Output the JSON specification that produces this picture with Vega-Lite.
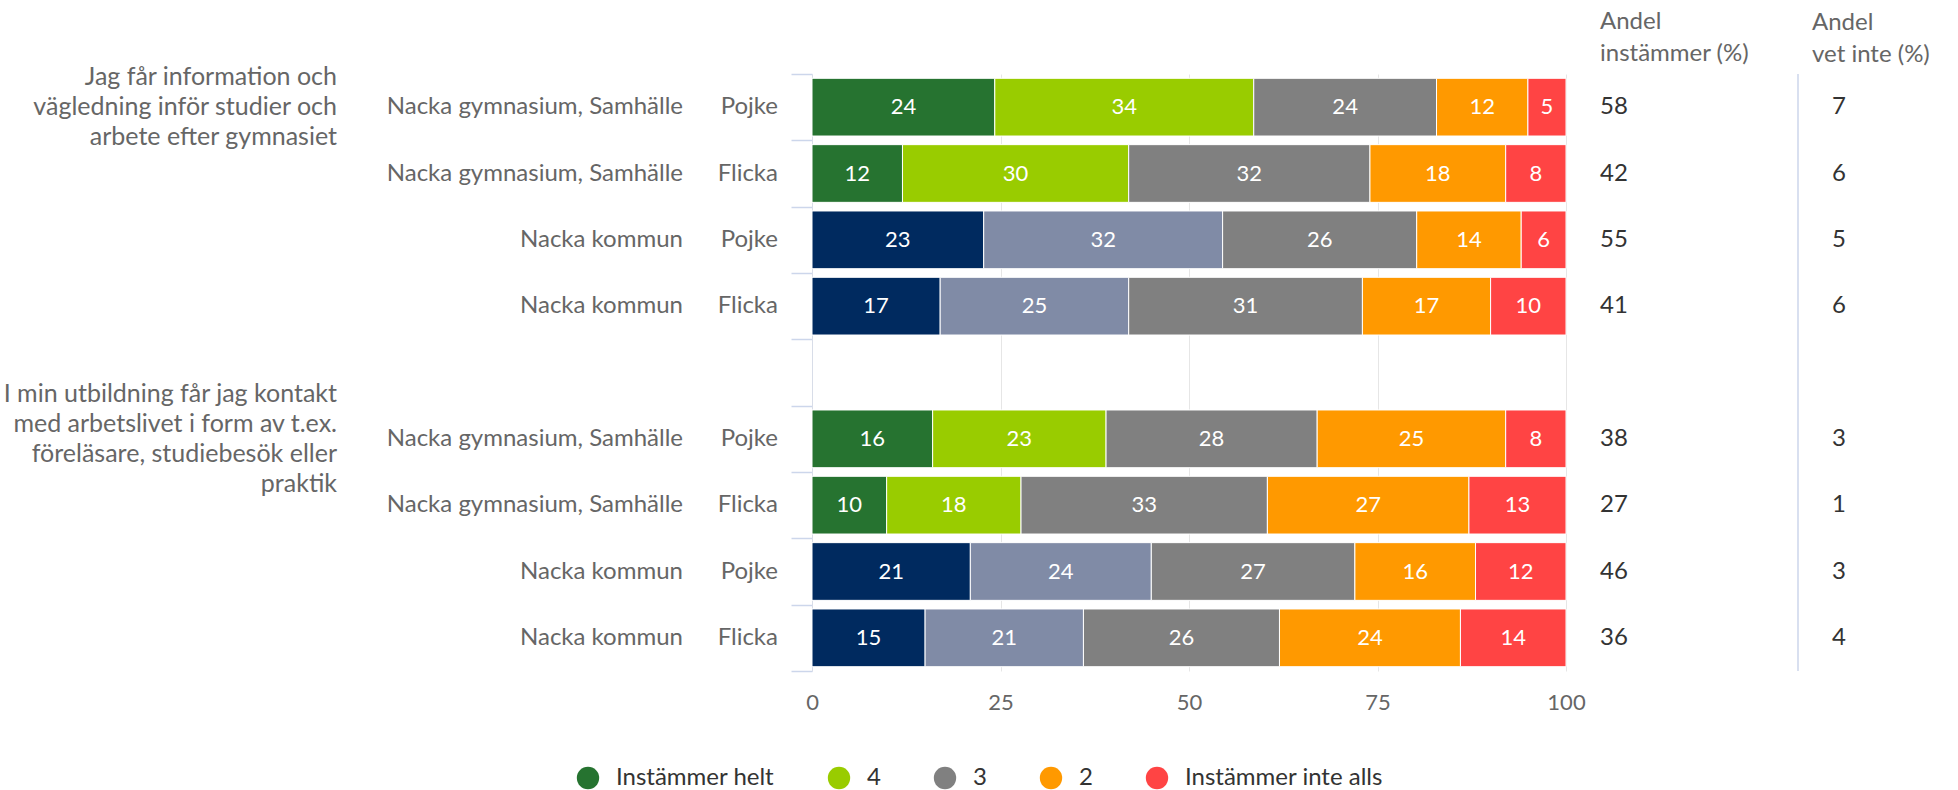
{
  "$schema": "https://vega.github.io/schema/vega-lite/v6.json",
  "padding": {"left": 0, "top": 10, "right": 0, "bottom": 0},
  "background": "white",
  "bounds": "flush",
  "spacing": 34,
  "config": {
    "font": "Lato",
    "view": {"stroke": null},
    "legend": {"layout": {"bottom": {"anchor": "middle"}}}
  },
  "datasets": {
    "rows": [
      {"row": "r1", "question": "Jag får information och\nvägledning inför studier och\narbete efter gymnasiet", "group": "Nacka gymnasium, Samhälle", "gender": "Pojke", "instammer": 58, "vetinte": 7},
      {"row": "r2", "question": null, "group": "Nacka gymnasium, Samhälle", "gender": "Flicka", "instammer": 42, "vetinte": 6},
      {"row": "r3", "question": null, "group": "Nacka kommun", "gender": "Pojke", "instammer": 55, "vetinte": 5},
      {"row": "r4", "question": null, "group": "Nacka kommun", "gender": "Flicka", "instammer": 41, "vetinte": 6},
      {"row": "r6", "question": "I min utbildning får jag kontakt\nmed arbetslivet i form av t.ex.\nföreläsare, studiebesök eller\npraktik", "group": "Nacka gymnasium, Samhälle", "gender": "Pojke", "instammer": 38, "vetinte": 3},
      {"row": "r7", "question": null, "group": "Nacka gymnasium, Samhälle", "gender": "Flicka", "instammer": 27, "vetinte": 1},
      {"row": "r8", "question": null, "group": "Nacka kommun", "gender": "Pojke", "instammer": 46, "vetinte": 3},
      {"row": "r9", "question": null, "group": "Nacka kommun", "gender": "Flicka", "instammer": 36, "vetinte": 4}
    ],
    "bars": [
      {"row": "r1", "serie": "Instämmer helt", "rank": 1, "value": 24},
      {"row": "r1", "serie": "4", "rank": 2, "value": 34},
      {"row": "r1", "serie": "3", "rank": 3, "value": 24},
      {"row": "r1", "serie": "2", "rank": 4, "value": 12},
      {"row": "r1", "serie": "Instämmer inte alls", "rank": 5, "value": 5},
      {"row": "r2", "serie": "Instämmer helt", "rank": 1, "value": 12},
      {"row": "r2", "serie": "4", "rank": 2, "value": 30},
      {"row": "r2", "serie": "3", "rank": 3, "value": 32},
      {"row": "r2", "serie": "2", "rank": 4, "value": 18},
      {"row": "r2", "serie": "Instämmer inte alls", "rank": 5, "value": 8},
      {"row": "r3", "serie": "Nacka kommun: Instämmer helt", "rank": 1, "value": 23},
      {"row": "r3", "serie": "Nacka kommun: 4", "rank": 2, "value": 32},
      {"row": "r3", "serie": "3", "rank": 3, "value": 26},
      {"row": "r3", "serie": "2", "rank": 4, "value": 14},
      {"row": "r3", "serie": "Instämmer inte alls", "rank": 5, "value": 6},
      {"row": "r4", "serie": "Nacka kommun: Instämmer helt", "rank": 1, "value": 17},
      {"row": "r4", "serie": "Nacka kommun: 4", "rank": 2, "value": 25},
      {"row": "r4", "serie": "3", "rank": 3, "value": 31},
      {"row": "r4", "serie": "2", "rank": 4, "value": 17},
      {"row": "r4", "serie": "Instämmer inte alls", "rank": 5, "value": 10},
      {"row": "r6", "serie": "Instämmer helt", "rank": 1, "value": 16},
      {"row": "r6", "serie": "4", "rank": 2, "value": 23},
      {"row": "r6", "serie": "3", "rank": 3, "value": 28},
      {"row": "r6", "serie": "2", "rank": 4, "value": 25},
      {"row": "r6", "serie": "Instämmer inte alls", "rank": 5, "value": 8},
      {"row": "r7", "serie": "Instämmer helt", "rank": 1, "value": 10},
      {"row": "r7", "serie": "4", "rank": 2, "value": 18},
      {"row": "r7", "serie": "3", "rank": 3, "value": 33},
      {"row": "r7", "serie": "2", "rank": 4, "value": 27},
      {"row": "r7", "serie": "Instämmer inte alls", "rank": 5, "value": 13},
      {"row": "r8", "serie": "Nacka kommun: Instämmer helt", "rank": 1, "value": 21},
      {"row": "r8", "serie": "Nacka kommun: 4", "rank": 2, "value": 24},
      {"row": "r8", "serie": "3", "rank": 3, "value": 27},
      {"row": "r8", "serie": "2", "rank": 4, "value": 16},
      {"row": "r8", "serie": "Instämmer inte alls", "rank": 5, "value": 12},
      {"row": "r9", "serie": "Nacka kommun: Instämmer helt", "rank": 1, "value": 15},
      {"row": "r9", "serie": "Nacka kommun: 4", "rank": 2, "value": 21},
      {"row": "r9", "serie": "3", "rank": 3, "value": 26},
      {"row": "r9", "serie": "2", "rank": 4, "value": 24},
      {"row": "r9", "serie": "Instämmer inte alls", "rank": 5, "value": 14}
    ]
  },
  "hconcat": [
    {
      "width": 337, "height": 597,
      "data": {"name": "rows"},
      "encoding": {
        "y": {"field": "row", "type": "nominal", "scale": {"type": "band", "domain": ["r1","r2","r3","r4","r5","r6","r7","r8","r9"], "paddingInner": 0, "paddingOuter": 0}, "axis": null},
        "x": {"value": "width"},
        "text": {"field": "question"}
      },
      "layer": [
        {
          "transform": [{"filter": "datum.row == 'r1'"}],
          "mark": {"type": "text", "align": "right", "baseline": "middle", "lineBreak": "\n", "lineHeight": 30, "fontSize": 25, "color": "#666666", "dy": -30}
        },
        {
          "transform": [{"filter": "datum.row == 'r6'"}],
          "mark": {"type": "text", "align": "right", "baseline": "middle", "lineBreak": "\n", "lineHeight": 30, "fontSize": 25, "color": "#666666", "dy": -45}
        }
      ]
    },
    {
      "width": 312, "height": 597,
      "data": {"name": "rows"},
      "mark": {"type": "text", "align": "right", "baseline": "middle", "fontSize": 24, "color": "#666666"},
      "encoding": {
        "y": {"field": "row", "type": "nominal", "scale": {"type": "band", "domain": ["r1","r2","r3","r4","r5","r6","r7","r8","r9"], "paddingInner": 0, "paddingOuter": 0}, "axis": null},
        "x": {"value": "width"},
        "text": {"field": "group"}
      }
    },
    {
      "width": 61, "height": 597,
      "data": {"name": "rows"},
      "mark": {"type": "text", "align": "right", "baseline": "middle", "fontSize": 24, "color": "#666666"},
      "encoding": {
        "y": {"field": "row", "type": "nominal", "scale": {"type": "band", "domain": ["r1","r2","r3","r4","r5","r6","r7","r8","r9"], "paddingInner": 0, "paddingOuter": 0}, "axis": null},
        "x": {"value": "width"},
        "text": {"field": "gender"}
      }
    },
    {
      "width": 754, "height": 597,
      "data": {"name": "bars"},
      "encoding": {
        "y": {"field": "row", "type": "nominal", "scale": {"type": "band", "domain": ["r1","r2","r3","r4","r5","r6","r7","r8","r9"], "paddingInner": 0, "paddingOuter": 0},
          "axis": {"title": null, "labels": false, "ticks": true, "tickBand": "extent", "tickSize": 21, "tickColor": "#ccd6eb", "tickWidth": 1.5, "domain": true, "domainColor": "#d8dde8", "domainWidth": 1, "grid": false}}
      },
      "layer": [
        {
          "mark": {"type": "bar", "height": {"band": 0.87}, "stroke": "white", "strokeWidth": 1},
          "encoding": {
            "x": {"field": "value", "type": "quantitative", "stack": "normalize",
              "axis": {"title": null, "values": [0, 0.25, 0.5, 0.75, 1], "labelExpr": "format(datum.value * 100, 'd')", "labelFlush": false, "grid": true, "gridColor": "#e6e6e6", "domain": false, "ticks": false, "labelFontSize": 22, "labelColor": "#666666", "labelPadding": 21}},
            "color": {"field": "serie", "type": "nominal",
              "scale": {"domain": ["Instämmer helt", "4", "3", "2", "Instämmer inte alls", "Nacka kommun: Instämmer helt", "Nacka kommun: 4"],
                        "range": ["#267330", "#99cc00", "#808080", "#ff9900", "#ff4444", "#002a5f", "#808ba6"]},
              "legend": {"values": ["Instämmer helt", "4", "3", "2", "Instämmer inte alls"], "orient": "bottom", "direction": "horizontal", "title": null, "symbolType": "circle", "symbolSize": 500, "symbolStrokeWidth": 0, "symbolOpacity": 1, "labelFontSize": 24, "labelColor": "#333333", "labelFont": "Lato", "labelLimit": 0, "columnPadding": 52, "labelOffset": 16, "offset": 53, "padding": 0}},
            "order": {"field": "rank", "type": "quantitative"}
          }
        },
        {
          "mark": {"type": "text", "align": "center", "baseline": "middle", "fontSize": 22, "color": "white"},
          "encoding": {
            "x": {"field": "value", "type": "quantitative", "stack": "normalize", "bandPosition": 0.5,
              "axis": {"title": null, "values": [0, 0.25, 0.5, 0.75, 1], "labelExpr": "format(datum.value * 100, 'd')", "labelFlush": false, "grid": true, "gridColor": "#e6e6e6", "domain": false, "ticks": false, "labelFontSize": 22, "labelColor": "#666666", "labelPadding": 21}},
            "detail": {"field": "serie"},
            "order": {"field": "rank", "type": "quantitative"},
            "text": {"field": "value", "type": "quantitative"}
          }
        }
      ]
    },
    {
      "width": 198, "height": 597,
      "title": {"text": ["Andel", "instämmer (%)"], "anchor": "start", "frame": "group", "fontSize": 24, "fontWeight": "normal", "color": "#666666", "lineHeight": 32, "offset": 7, "font": "Lato"},
      "layer": [
        {
          "data": {"name": "rows"},
          "mark": {"type": "text", "align": "left", "baseline": "middle", "fontSize": 24, "color": "#333333"},
          "encoding": {
            "y": {"field": "row", "type": "nominal", "scale": {"type": "band", "domain": ["r1","r2","r3","r4","r5","r6","r7","r8","r9"], "paddingInner": 0, "paddingOuter": 0}, "axis": null},
            "x": {"value": 0},
            "text": {"field": "instammer"}
          }
        },
        {
          "data": {"values": [{}]},
          "mark": {"type": "rule", "color": "#ccd6eb", "strokeWidth": 1.5},
          "encoding": {"x": {"value": "width"}}
        }
      ]
    },
    {
      "width": 126, "height": 597,
      "title": {"text": ["Andel", "vet inte (%)"], "anchor": "start", "frame": "group", "fontSize": 24, "fontWeight": "normal", "color": "#666666", "lineHeight": 32, "offset": 7, "dx": -20, "font": "Lato"},
      "data": {"name": "rows"},
      "mark": {"type": "text", "align": "left", "baseline": "middle", "fontSize": 24, "color": "#333333"},
      "encoding": {
        "y": {"field": "row", "type": "nominal", "scale": {"type": "band", "domain": ["r1","r2","r3","r4","r5","r6","r7","r8","r9"], "paddingInner": 0, "paddingOuter": 0}, "axis": null},
        "x": {"value": 0},
        "text": {"field": "vetinte"}
      }
    }
  ]
}
